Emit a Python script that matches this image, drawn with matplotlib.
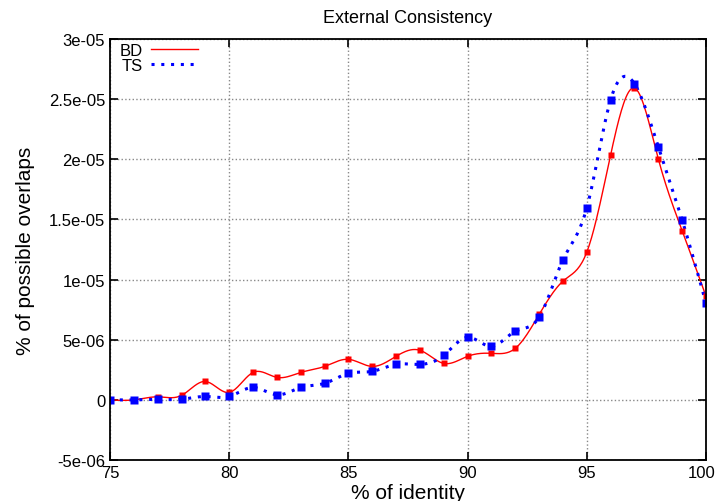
import numpy as np
import matplotlib
matplotlib.use("Agg")
import matplotlib.pyplot as plt
import matplotlib.transforms as mtransforms

identity = list(range(75, 101))
bd = [0.0, 0.0, 0.25, 0.37, 1.53, 0.62, 2.28, 1.87, 2.28, 2.78, 3.37, 2.78, 3.62,
      4.12, 3.03, 3.62, 3.87, 4.28, 7.1, 9.87, 12.28, 20.37, 25.92, 20.03, 14.06, 8.62]
ts = [0.0, 0.0, 0.04, 0.05, 0.28, 0.28, 1.03, 0.42, 1.03, 1.37, 2.2, 2.37, 2.95,
      2.95, 3.7, 5.2, 4.45, 5.7, 6.87, 11.64, 15.97, 24.95, 26.28, 21.03, 14.95, 8.03]
bd = [v * 1e-6 for v in bd]
ts = [v * 1e-6 for v in ts]
yticks = [-5e-06, 0, 5e-06, 1e-05, 1.5e-05, 2e-05, 2.5e-05, 3e-05]
ytick_labels = ["-5e-06", "0", "5e-06", "1e-05", "1.5e-05", "2e-05", "2.5e-05", "3e-05"]


def csplines(x, y, n=20):
    # natural cubic spline, like gnuplot "smooth csplines"
    x = np.asarray(x, float); y = np.asarray(y, float)
    m = len(x); h = np.diff(x)
    A = np.zeros((m, m)); r = np.zeros(m)
    A[0, 0] = A[-1, -1] = 1
    for i in range(1, m - 1):
        A[i, i - 1] = h[i - 1]; A[i, i] = 2 * (h[i - 1] + h[i]); A[i, i + 1] = h[i]
        r[i] = 6 * ((y[i + 1] - y[i]) / h[i] - (y[i] - y[i - 1]) / h[i - 1])
    M = np.linalg.solve(A, r)
    xs, ys = [], []
    for i in range(m - 1):
        t = np.linspace(x[i], x[i + 1], n, endpoint=(i == m - 2))
        a = x[i + 1] - t; b = t - x[i]
        s = (M[i] * a ** 3 + M[i + 1] * b ** 3) / (6 * h[i]) \
            + (y[i] / h[i] - M[i] * h[i] / 6) * a + (y[i + 1] / h[i] - M[i + 1] * h[i] / 6) * b
        xs.append(t); ys.append(s)
    return np.concatenate(xs), np.concatenate(ys)


plt.rcParams["font.family"] = ["Liberation Sans", "DejaVu Sans"]
fig = plt.figure(figsize=(7.17, 5.02), dpi=100)
ax = fig.add_axes([110 / 717, 1 - 461 / 502, 596 / 717, 421 / 502])

sx, sy = csplines(identity, bd)
ax.plot(sx, sy, color="#ff0000", lw=1.0, label="BD")
sx, sy = csplines(identity, ts)
ax.plot(sx, sy, color="#0000ff", lw=2.2, ls=(0, (1, 2.2)), label="TS")
ax.plot(identity, bd, "s", color="#ff0000", ms=5, mec="none")
ax.plot(identity, ts, "s", color="#0000ff", ms=5.3, mec="none")

ax.set_xlim(75, 100)
ax.set_ylim(-5e-06, 3e-05)
ax.set_xticks([75, 80, 85, 90, 95, 100])
ax.set_yticks(yticks)
ax.set_yticklabels(ytick_labels)
ax.tick_params(direction="in", top=True, right=True, labelsize=12, length=6, width=1.2)
ax.grid(True, color="#888888", ls=":", lw=1.0)
for s in ax.spines.values():
    s.set_linewidth(1.3)

# keep the last x label inside the image, as gnuplot does
last = ax.get_xticklabels()[-1]
last.set_transform(last.get_transform() + mtransforms.ScaledTranslation(-4 / 100, 0, fig.dpi_scale_trans))

ax.set_title("External Consistency", fontsize=13, pad=12)
ax.title.set_position((0.5, 1.0))
ax.set_xlabel("% of identity", fontsize=15, labelpad=2)
ax.set_ylabel("% of possible overlaps", fontsize=15, labelpad=10)
ax.legend(loc="upper left", bbox_to_anchor=(0.0, 1.015), frameon=False, markerfirst=False,
          fontsize=12, handlelength=2.8, borderaxespad=0.2, labelspacing=0.0, handletextpad=0.5)

fig.savefig("out.png", dpi=100)
